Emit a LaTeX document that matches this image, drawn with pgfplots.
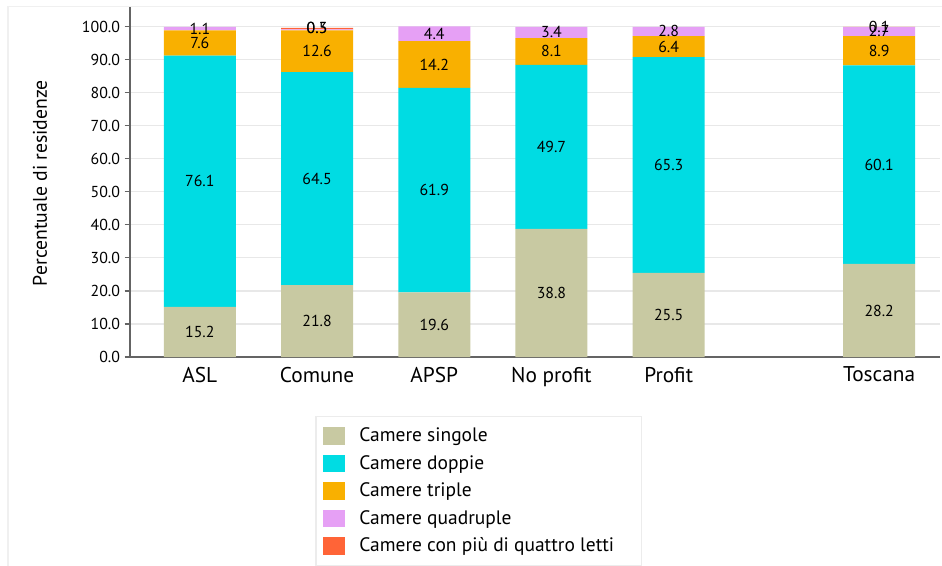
\documentclass[border=0pt]{standalone}
\usepackage{pgfplots}
\pgfplotsset{compat=1.18}
\usepackage{fontspec}
\setmainfont{PT Sans}
\definecolor{csing}{RGB}{200,201,162}
\definecolor{cdopp}{RGB}{0,220,227}
\definecolor{ctrip}{RGB}{249,176,0}
\definecolor{cquad}{RGB}{230,160,245}
\definecolor{cpiu}{RGB}{255,100,55}
\definecolor{axgray}{RGB}{100,100,100}
\begin{document}
\begin{tikzpicture}
\pgfplotsset{
  base/.style={
    scale only axis, width=607.5pt, height=262.5pt,
    at={(0,0)}, anchor=south west,
    xmin=-0.596, xmax=6.315, ymin=0, ymax=106,
  },
  box/.style={legend image code/.code={\fill[##1] (0pt,-6.5pt) rectangle (17pt,6.5pt); \path (26pt,0pt);}},
}
\begin{axis}[base,
  ybar stacked, bar width=54pt,
  axis x line*=bottom, axis y line*=left,
  axis line style={axgray, line width=0.8pt},
  xtick={0,1,2,3,4,5.796},
  xticklabels={ASL,Comune,APSP,No profit,Profit,Toscana},
  x tick label style={font=\fontsize{16}{19}\selectfont, yshift=0pt},
  xtick style={draw=none},
  ytick={0,10,...,100},
  yticklabel style={font=\fontsize{11.9}{14}\selectfont,
    /pgf/number format/fixed, /pgf/number format/fixed zerofill,
    /pgf/number format/precision=1, /pgf/number format/assume math mode=true},
  tick align=outside, major tick length=4pt,
  ytick style={axgray, line width=0.8pt},
  ymajorgrids, grid style={gray!18, line width=0.8pt},
  ylabel={Percentuale di residenze},
  every axis y label/.style={at={(axis description cs:-0.111,0.497)}, rotate=90, anchor=center,
    font=\fontsize{14.8}{17}\selectfont},
  legend style={at={(0.229,-0.169)}, anchor=north west, draw=gray!15, line width=0.8pt,
    font=\fontsize{14.6}{17}\selectfont, row sep=5.7pt, inner xsep=5pt, inner ysep=7pt,
    nodes={inner sep=1.5pt}},
  legend cell align=left,
]
\addplot[box, fill=csing, draw=none] coordinates {(0,15.2) (1,21.8) (2,19.6) (3,38.8) (4,25.5) (5.796,28.2)};
\addplot[box, fill=cdopp, draw=none] coordinates {(0,76.1) (1,64.5) (2,61.9) (3,49.7) (4,65.3) (5.796,60.1)};
\addplot[box, fill=ctrip, draw=none] coordinates {(0,7.6) (1,12.6) (2,14.2) (3,8.1) (4,6.4) (5.796,8.9)};
\addplot[box, fill=cquad, draw=none] coordinates {(0,1.1) (1,0.3) (2,4.4) (3,3.4) (4,2.8) (5.796,2.7)};
\addplot[box, fill=cpiu, draw=none] coordinates {(0,0) (1,0.5) (2,0) (3,0) (4,0) (5.796,0.1)};
\legend{Camere singole, Camere doppie, Camere triple, Camere quadruple, Camere con più di quattro letti\hspace*{14pt}}
\end{axis}
\begin{axis}[base, hide axis,
  nodes near coords, point meta=explicit symbolic,
  every node near coord/.append style={anchor=center, font=\fontsize{11.9}{14}\selectfont, black},
]
\addplot[draw=none] coordinates {(0,7.6)[15.2] (1,10.9)[21.8] (2,9.8)[19.6] (3,19.4)[38.8] (4,12.75)[25.5] (5.796,14.1)[28.2]};
\addplot[draw=none] coordinates {(0,53.25)[76.1] (1,54.05)[64.5] (2,50.55)[61.9] (3,63.65)[49.7] (4,58.15)[65.3] (5.796,58.25)[60.1]};
\addplot[draw=none] coordinates {(0,95.1)[7.6] (1,92.6)[12.6] (2,88.6)[14.2] (3,92.55)[8.1] (4,94.0)[6.4] (5.796,92.75)[8.9]};
\addplot[draw=none] coordinates {(0,99.45)[1.1] (1,99.6)[0.3] (2,97.9)[4.4] (3,98.3)[3.4] (4,98.6)[2.8] (5.796,98.7)[2.7]};
\addplot[draw=none] coordinates {(1,99.65)[0.5] (5.796,99.95)[0.1]};
\end{axis}
\draw[gray!12, line width=0.8pt] (-91.5pt,-170pt) -- (-91.5pt,262.7pt) -- (620pt,262.7pt);
\pgfresetboundingbox
\useasboundingbox (-97.5pt,-156pt) rectangle (609pt,267.75pt);
\end{tikzpicture}
\end{document}
